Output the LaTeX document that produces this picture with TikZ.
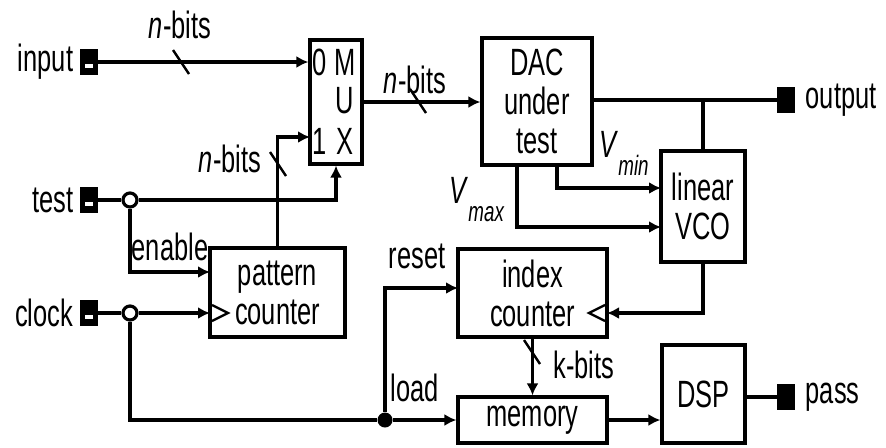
\documentclass[tikz,border=0pt]{standalone}
\usepackage{fontspec}
\setmainfont{Liberation Sans}[FakeStretch=0.67]
\usetikzlibrary{positioning, calc, arrows.meta}

\begin{document}
\begin{tikzpicture}[
    x=0.5pt, y=-0.5pt,
    every node/.style={font=\fontsize{19}{19.5}\selectfont, inner sep=1pt},
    block/.style={rectangle, draw=black, line width=1.6pt, fill=white, align=center, inner sep=0pt},
    term/.style={rectangle, fill=black, minimum width=9pt, minimum height=13pt, inner sep=0pt},
    port/.style={term, path picture={\fill[white] ([xshift=-2pt,yshift=-3pt]path picture bounding box.center) rectangle ([xshift=2pt,yshift=-1pt]path picture bounding box.center);}},
    junction/.style={circle, draw=black, fill=white, line width=1.6pt, inner sep=0pt, minimum size=7pt},
    dot/.style={circle, fill=black, inner sep=0pt, minimum size=7.5pt},
    wire/.style={line width=1.6pt},
    sig/.style={wire, -{Latex[length=6pt, width=6pt]}},
    tick/.style={line width=1.2pt}
]

\useasboundingbox (0,0) rectangle (886,447);

% --- Blocks ---
\node[block, minimum width=26pt, minimum height=62pt] (mux) at (336,102) {};
\foreach \t/\xx/\yy in {0/320/62, M/345/62, U/345/101, 1/320/141, X/345/141} {
    \node (mux\t) at (\xx,\yy) {\t};
}
\node[block, minimum width=55pt, minimum height=63.5pt] (dac) at (537,101.5) {DAC\\under\\test};
\node[block, minimum width=42pt, minimum height=55.5pt] (vco) at (703,206.5) {linear\\VCO};
\node[block, minimum width=67.5pt, minimum height=44.5pt] (pat) at (277.5,292.5) {pattern\\counter};
\node[block, minimum width=74.5pt, minimum height=44pt] (idx) at (532.5,293) {index\\counter};
\node[block, minimum width=74.5pt, minimum height=23pt] (mem) at (532.5,420) {memory};
\node[block, minimum width=41.5pt, minimum height=49pt] (dsp) at (703.5,394) {DSP};

% --- Pins ---
\foreach \nm/\yy/\txt in {inp/62/input, tst/200/test, clk/313/clock} {
    \node[port] (\nm) at (89,\yy) {};
    \node[left=2pt of \nm] (\nm lbl) {\txt};
}
\node[term] (out) at (786,100) {};
\node[right=4pt of out] (outlbl) {output};
\node[term] (pass) at (786,397) {};
\node[right=4pt of pass] (passlbl) {pass};

% --- Junctions and ports ---
\node[junction] (tstj) at (130,200) {};
\node[junction] (clkj) at (130,313) {};
\node[dot] (ldj) at (385,420) {};
\coordinate (mux1) at (310,137);
\coordinate (patin) at (210,272);
\coordinate (patclk) at (210,313);
\coordinate (idxrst) at (458,288);
\coordinate (idxclk) at (607,313);
\coordinate (dmin) at (557,165);
\coordinate (dmax) at (517,165);
\coordinate (vmin) at (661,188);
\coordinate (vmax) at (661,227);

% --- Wires ---
\draw[sig] (inp) -- (inp -| mux.west);
\draw[sig] (pat.north) |- (mux1);
\draw[wire] (tst) -- (tstj);
\draw[sig] (tstj) -| (mux.south);
\draw[sig] (tstj) |- (patin);
\draw[wire] (clk) -- (clkj);
\draw[sig] (clkj) -- (patclk);
\draw[wire] (clkj) |- (ldj);
\draw[sig] (ldj) |- (idxrst);
\draw[sig] (ldj) -- (mem.west);
\draw[sig] (mux.east) -- (mux.east -| dac.west);
\draw[wire] (out -| dac.east) -- (out);
\draw[wire] (vco.north) -- (vco.north |- out);
\draw[sig] (dmin) |- (vmin);
\draw[sig] (dmax) |- (vmax);
\draw[sig] (vco.south) |- (idxclk);
\draw[sig] (idx.south) -- (mem.north);
\draw[sig] (mem.east) -- (mem.east -| dsp.west);
\draw[wire] (pass -| dsp.east) -- (pass);

% clock marks
\draw[tick] (patclk) ++(2,-8) -- ++(16,8) -- ++(-16,8);
\draw[tick] (idxclk) ++(-2,-8) -- ++(-16,8) -- ++(16,8);

% bus marks
\foreach \xx/\yy in {181/62, 278/164, 418/101, 532/352} {
    \draw[tick] (\xx,\yy) ++(-8,-12) -- ++(16,24);
}

% --- Labels ---
\node (nb1) at (180,25) {\textit{n}-bits};
\node (nb2) at (230,159) {\textit{n}-bits};
\node (nb3) at (415,80) {\textit{n}-bits};
\node (en) at (170,247) {enable};
\node (rst) at (417,256) {reset};
\node (ld) at (415,388) {load};
\node (kb) at (584,365) {k-bits};
\node (vminlbl) at (624,153) {\textit{V}\raisebox{-9pt}{\fontsize{14}{14}\selectfont\textit{min}}};
\node (vmaxlbl) at (477,200) {\textit{V}\raisebox{-9pt}{\fontsize{14}{14}\selectfont\textit{max}}};

\end{tikzpicture}
\end{document}
